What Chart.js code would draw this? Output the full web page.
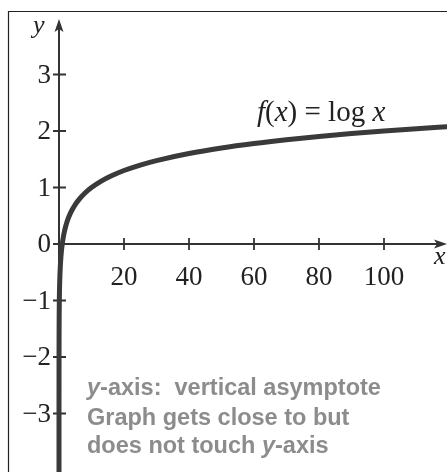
<!DOCTYPE html>
<html>
<head>
<meta charset="utf-8">
<style>
html,body{margin:0;padding:0;background:#fff;}
#wrap{width:447px;height:472px;position:relative;}
</style>
<script src="https://cdn.jsdelivr.net/npm/chart.js@4.4.1/dist/chart.umd.min.js"></script>
</head>
<body>
<div id="wrap"><canvas id="c" width="447" height="472"></canvas></div>
<script>
// Data: f(x) = log x
const xValues = [0.00005, 0.001, 0.01, 0.03, 0.06, 0.1, 0.15, 0.2, 0.3, 0.4, 0.5, 0.7, 1, 1.3, 1.7, 2, 2.5, 3, 4, 5, 6, 8, 10, 13, 16, 20, 25, 30, 40, 50, 60, 70, 80, 90, 100, 110, 120];
const yValues = [-4.301, -3, -2, -1.523, -1.222, -1, -0.824, -0.699, -0.523, -0.398, -0.301, -0.155, 0, 0.114, 0.230, 0.301, 0.398, 0.477, 0.602, 0.699, 0.778, 0.903, 1, 1.114, 1.204, 1.301, 1.398, 1.477, 1.602, 1.699, 1.778, 1.845, 1.903, 1.954, 2, 2.041, 2.079];
const xTickValues = [20, 40, 60, 80, 100];
const xTickLabels = ['20', '40', '60', '80', '100'];
const yTickValues = [-3, -2, -1, 0, 1, 2, 3];
const yTickLabels = ['\u22123', '\u22122', '\u22121', '0', '1', '2', '3'];
const curveLabel = 'log x';
const noteLines = [
  [{t:'y', i:true}, {t:'-axis:  vertical asymptote'}],
  [{t:'Graph gets close to but'}],
  [{t:'does not touch '}, {t:'y', i:true}, {t:'-axis'}]
];

const points = xValues.map((x, i) => ({x: x, y: yValues[i]}));

const axesPlugin = {
  id: 'axes',
  beforeDatasetsDraw(chart) {
    const ctx = chart.ctx;
    const xs = chart.scales.x, ys = chart.scales.y;
    const x0 = xs.getPixelForValue(0), y0 = ys.getPixelForValue(0);
    const W = chart.width, H = chart.height;
    ctx.save();
    // frame
    ctx.strokeStyle = '#222';
    ctx.lineWidth = 1.2;
    ctx.beginPath();
    ctx.moveTo(8.5, H + 2);
    ctx.lineTo(8.5, 11.5);
    ctx.lineTo(W + 2, 11.5);
    ctx.stroke();
    // axes
    ctx.strokeStyle = '#333';
    ctx.fillStyle = '#333';
    ctx.lineWidth = 2;
    ctx.beginPath();
    ctx.moveTo(x0, H + 2); ctx.lineTo(x0, 26);
    ctx.moveTo(x0 - 4, y0); ctx.lineTo(W - 8, y0);
    ctx.stroke();
    // arrowheads
    ctx.beginPath();
    ctx.moveTo(x0, 19); ctx.lineTo(x0 + 4.5, 32); ctx.lineTo(x0, 29); ctx.lineTo(x0 - 4.5, 32); ctx.closePath();
    ctx.fill();
    ctx.beginPath();
    ctx.moveTo(W, y0); ctx.lineTo(W - 13, y0 - 4.5); ctx.lineTo(W - 10, y0); ctx.lineTo(W - 13, y0 + 4.5); ctx.closePath();
    ctx.fill();
    // ticks
    ctx.lineWidth = 1.8;
    ctx.beginPath();
    yTickValues.forEach(v => {
      const p = ys.getPixelForValue(v);
      ctx.moveTo(x0 - 6, p); ctx.lineTo(v === 0 ? x0 : x0 + 7, p);
    });
    xTickValues.forEach(v => {
      const p = xs.getPixelForValue(v);
      ctx.moveTo(p, y0 - 6); ctx.lineTo(p, y0 + 6);
    });
    ctx.stroke();
    // tick labels
    ctx.fillStyle = '#222';
    ctx.font = '27px "Liberation Serif", "Times New Roman", serif';
    ctx.textAlign = 'right';
    ctx.textBaseline = 'middle';
    yTickValues.forEach((v, i) => {
      ctx.fillText(yTickLabels[i], x0 - 8, ys.getPixelForValue(v) + 1);
    });
    ctx.textAlign = 'center';
    ctx.textBaseline = 'alphabetic';
    xTickValues.forEach((v, i) => {
      ctx.fillText(xTickLabels[i], xs.getPixelForValue(v), y0 + 41);
    });
    // axis labels
    ctx.font = 'italic 26px "Liberation Serif", "Times New Roman", serif';
    ctx.textAlign = 'left';
    ctx.fillText('y', 33, 33);
    ctx.fillText('x', W - 13, y0 + 20);
    ctx.restore();
  },
  afterDatasetsDraw(chart) {
    const ctx = chart.ctx;
    ctx.save();
    // curve label
    ctx.fillStyle = '#222';
    ctx.textBaseline = 'alphabetic';
    ctx.textAlign = 'left';
    const serif = '"Liberation Serif", "Times New Roman", serif';
    let x = 257, y = 121;
    const parts = [{t:'f', i:true}, {t:'('}, {t:'x', i:true}, {t:') = ' + curveLabel.split(' ')[0] + ' '}, {t:'x', i:true}];
    parts.forEach(p => {
      ctx.font = (p.i ? 'italic ' : '') + '29px ' + serif;
      ctx.fillText(p.t, x, y);
      x += ctx.measureText(p.t).width;
    });
    // note
    ctx.fillStyle = '#8c8c8c';
    const sans = '"Liberation Sans", Arial, sans-serif';
    const bases = [395, 425, 453];
    noteLines.forEach((line, li) => {
      let xx = 87;
      line.forEach(p => {
        ctx.font = (p.i ? 'italic ' : '') + 'bold 23.5px ' + sans;
        ctx.fillText(p.t, xx, bases[li]);
        xx += ctx.measureText(p.t).width;
      });
    });
    ctx.restore();
  }
};

new Chart(document.getElementById('c'), {
  type: 'line',
  data: {
    datasets: [{
      data: points,
      borderColor: '#3a3a3a',
      borderWidth: 5,
      pointRadius: 0,
      fill: false,
      cubicInterpolationMode: 'monotone',
      borderCapStyle: 'butt'
    }]
  },
  options: {
    responsive: false,
    animation: false,
    events: [],
    layout: {padding: 0},
    plugins: {legend: {display: false}, tooltip: {enabled: false}},
    scales: {
      x: {type: 'linear', display: false, min: -18.154, max: 119.385},
      y: {type: 'linear', display: false, min: -4.035, max: 4.3186}
    }
  },
  plugins: [axesPlugin]
});
</script>
</body>
</html>
